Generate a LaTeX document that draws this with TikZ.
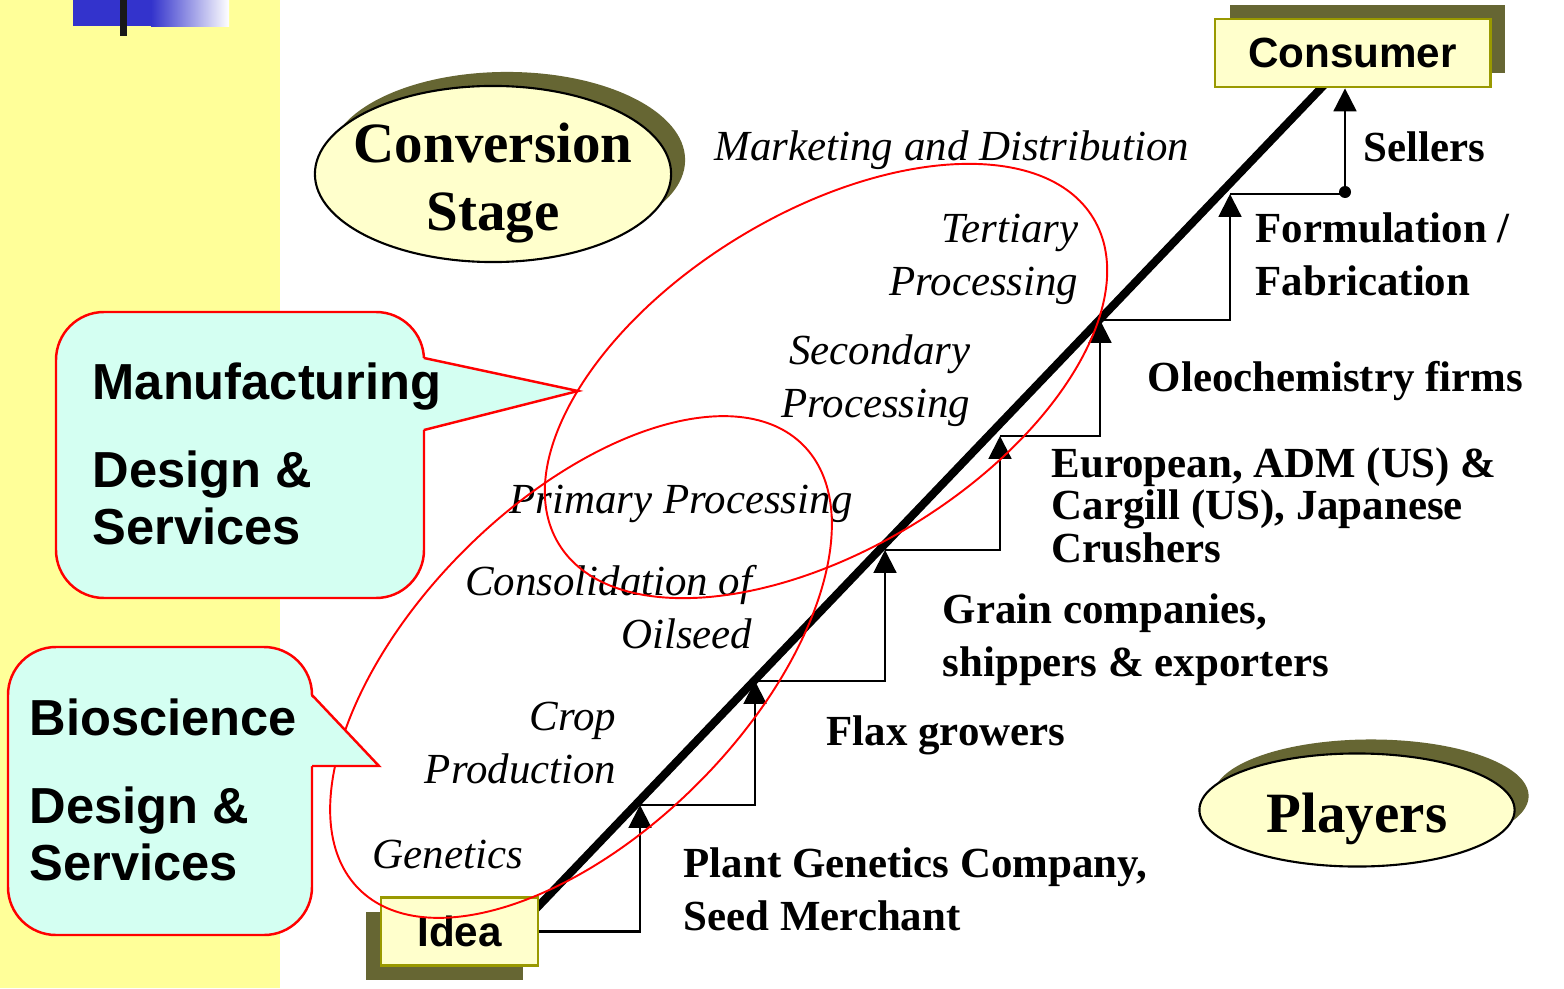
\documentclass[tikz,border=0pt]{standalone}
\usepackage{fontspec}
\setmainfont{Liberation Serif}
\setsansfont{Liberation Sans}
\usetikzlibrary{arrows.meta,shapes.geometric,shadows}

\definecolor{panelyellow}{RGB}{255,255,153}
\definecolor{slideblue}{RGB}{51,51,204}
\definecolor{boxfill}{RGB}{255,255,204}
\definecolor{boxedge}{RGB}{153,153,0}
\definecolor{shadowolive}{RGB}{102,102,51}
\definecolor{calloutfill}{RGB}{212,255,242}

\tikzset{
	stage/.style={inner sep=0pt, align=right, font=\itshape\fontsize{12.2}{14.8}\selectfont},
	player/.style={inner sep=0pt, align=left, anchor=base west, font=\bfseries\fontsize{12.2}{14.8}\selectfont},
	endbox/.style={draw=boxedge, line width=.8pt, fill=boxfill, minimum width=2.75cm, minimum height=.68cm, inner sep=0pt, font=\sffamily\bfseries\fontsize{12}{14}\selectfont},
	oval/.style={ellipse, draw, line width=.6pt, fill=boxfill, inner sep=0pt, drop shadow={shadow xshift=.14cm, shadow yshift=.14cm, opacity=1, fill=shadowolive}},
	ovaltext/.style={inner sep=0pt, align=center, anchor=base, font=\bfseries\fontsize{16.2}{19.1}\selectfont},
	stair/.style={line width=.6pt, -{Triangle[width=6.5pt,length=6.5pt]}},
	ring/.style={red, line width=.55pt},
	callout/.style={draw=red, line width=.7pt, fill=calloutfill},
	bubble/.style={inner sep=0pt, align=left, anchor=base west, font=\sffamily\bfseries\fontsize{14.4}{16.2}\selectfont}
}

\begin{document}
\begin{tikzpicture}[x=0.01cm, y=-0.01cm]
	\path[fill=white] (0,0) rectangle (1564,988);
	\fill[panelyellow] (0,0) rectangle (280,988);
	\fill[slideblue] (73,0) rectangle (151,26);
	\shade[left color=slideblue, right color=white] (151,0) rectangle (229,27);
	\fill[black!90] (120,0) rectangle (127,36);

	% the chain
	\coordinate (lo) at (530,915);
	\coordinate (hi) at (1326,83);
	\draw[line width=2.3pt] (lo) -- (hi);

	\node[endbox, drop shadow={shadow xshift=.15cm, shadow yshift=.14cm, opacity=1, fill=shadowolive}] (consumer) at (1352.5,53) {Consumer};
	\node[endbox, minimum width=1.57cm, drop shadow={shadow xshift=-.15cm, shadow yshift=-.14cm, opacity=1, fill=shadowolive}] (idea) at (459.5,931.5) {Idea};

	\node[oval, minimum width=3.56cm, minimum height=1.76cm] (conv) at (493,174) {};
	\node[ovaltext] (convtext) at (493,230) {Conversion\\Stage};
	\node[oval, minimum width=3.15cm, minimum height=1.13cm] (players) at (1357,810) {};
	\node[ovaltext] (playerstext) at (1357,832) {Players};

	% steps
	\foreach \x/\y [count=\i] in {640/805, 755/681, 885/550, 1000/436, 1100/320, 1230/194} {
		\coordinate (t\i) at (\x,\y);
	}
	\coordinate (sell) at (1345,192);
	\draw[stair] (idea.east) -| (t1);
	\foreach \i/\j in {1/2, 2/3, 3/4, 4/5, 5/6} {
		\draw[stair] (t\i) -| (t\j);
	}
	\draw[stair] (t6) -| (consumer.south -| sell);
	\fill (sell) circle (6);

	% stages
	\node[stage, anchor=base west] (market) at (714,160) {Marketing and Distribution};
	\node[stage, anchor=base east] (tertiary) at (1079,295) {Tertiary\\Processing};
	\node[stage, anchor=base east] (secondary) at (971,417) {Secondary\\Processing};
	\node[stage, anchor=base west] (primary) at (509,513) {Primary Processing};
	\node[stage, anchor=base east] (consol) at (753,648) {Consolidation of\\Oilseed};
	\node[stage, anchor=base east] (crop) at (617,783) {Crop\\Production};
	\node[stage, anchor=base west] (genetics) at (372,868) {Genetics};

	% players
	\node[player] (sellers) at (1363,162) {Sellers};
	\node[player] (formul) at (1255,295) {Formulation /\\Fabrication};
	\node[player] (oleo) at (1147,391) {Oleochemistry firms};
	\node[player, font=\bfseries\fontsize{12.2}{12}\selectfont] (crushers) at (1051,562) {European, ADM (US) \&\\Cargill (US), Japanese\\Crushers};
	\node[player] (grain) at (942,676) {Grain companies,\\shippers \& exporters};
	\node[player] (flax) at (826,745) {Flax growers};
	\node[player] (plant) at (683,930) {Plant Genetics Company,\\Seed Merchant};

	% rings
	\draw[ring, rotate around={31.4:(826,381)}] (826,381) ellipse [x radius=313, y radius=168];
	\draw[ring, rotate around={45:(581,667)}] (581,667) ellipse [x radius=314, y radius=165];

	% bubbles
	\draw[callout, rounded corners=.48cm] (56,312) rectangle (424,598);
	\fill[calloutfill] (422,358) -- (578,391) -- (422,430) -- cycle;
	\draw[red, line width=.7pt] (424,358) -- (578,391) -- (424,430);
	\node[bubble] (manuf) at (92,544) {Manufacturing\\[8.8pt]Design \&\\Services};

	\draw[callout, rounded corners=.48cm] (8,647) rectangle (312,935);
	\fill[calloutfill] (310,695) -- (379,766) -- (310,766) -- cycle;
	\draw[red, line width=.7pt] (312,695) -- (379,766) -- (312,766);
	\node[bubble] (biosci) at (29,880) {Bioscience\\[8.8pt]Design \&\\Services};
\end{tikzpicture}
\end{document}
